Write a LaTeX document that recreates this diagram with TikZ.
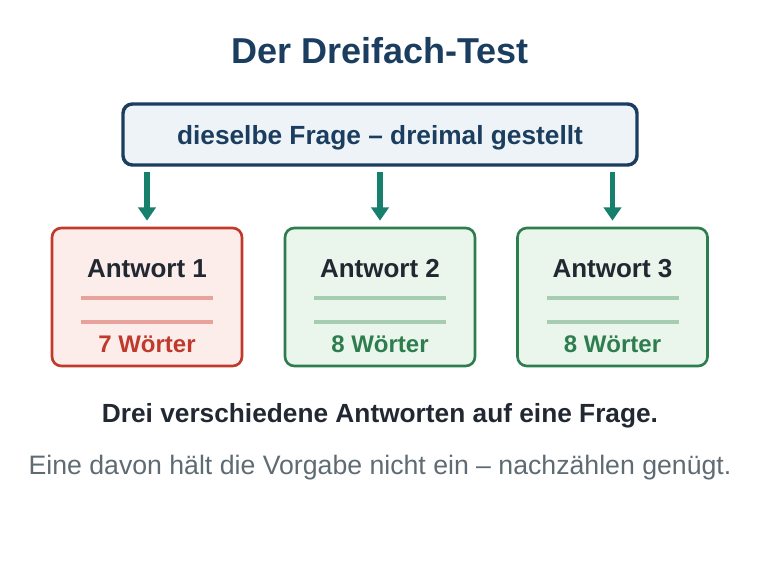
\documentclass[tikz,border=0pt]{standalone}
\usepackage{fontspec}
\setmainfont{Liberation Sans}
\usetikzlibrary{arrows.meta, positioning, calc}
\definecolor{titleblue}{HTML}{1B3D5F}
\definecolor{qfill}{HTML}{EEF3F7}
\definecolor{teal}{HTML}{17806D}
\definecolor{badred}{HTML}{C0392B}
\definecolor{badfill}{HTML}{FCEDEB}
\definecolor{badline}{HTML}{E8A29C}
\definecolor{okgreen}{HTML}{2E7D4F}
\definecolor{okfill}{HTML}{EAF5EC}
\definecolor{okline}{HTML}{A6CDB1}
\definecolor{darktext}{HTML}{222831}
\definecolor{graytext}{HTML}{5F6B73}

\begin{document}
\begin{tikzpicture}[x=0.75pt,y=-0.75pt,font=\bfseries]
\useasboundingbox (0,0) rectangle (760,570);

\tikzstyle{question}=[draw=titleblue,fill=qfill,line width=2.6pt,rounded corners=7pt,minimum width=385.5pt,minimum height=45.75pt,text=titleblue,font=\bfseries\fontsize{19.7}{23}\selectfont]
\tikzstyle{answer}=[line width=2pt,rounded corners=7pt,minimum width=142.5pt,minimum height=103.5pt]
\tikzstyle{bad}=[answer,draw=badred,fill=badfill]
\tikzstyle{good}=[answer,draw=okgreen,fill=okfill]
\tikzstyle{post}=[-{Triangle[length=10pt,width=13pt]},teal,line width=3.8pt]
\tikzstyle{label}=[text=darktext,font=\bfseries\fontsize{19.5}{23}\selectfont]
\tikzstyle{count}=[font=\bfseries\fontsize{18}{21}\selectfont]

\node[text=titleblue,font=\bfseries\fontsize{27}{32}\selectfont] (title) at (380,51) {Der Dreifach-Test};
\node[question] (frage) at (380,134.5) {};
\node[text=titleblue,font=\bfseries\fontsize{19.7}{23}\selectfont] (frage text) at (380,138) {dieselbe Frage -- dreimal gestellt};

\node[bad] (a1) at (147,297) {};
\node[good] (a2) at (380,297) {};
\node[good] (a3) at (612.5,297) {};

\foreach \i/\n/\c/\l/\w in {a1/1/badred/badline/7, a2/2/okgreen/okline/8, a3/3/okgreen/okline/8} {
    \node[label] at ($(\i.north)+(0,42)$) {Antwort \n};
    \draw[\l,line width=3pt] ($(\i.north)+(-66,71)$) -- ($(\i.north)+(66,71)$);
    \draw[\l,line width=3pt] ($(\i.north)+(-66,95)$) -- ($(\i.north)+(66,95)$);
    \node[count,text=\c] at ($(\i.north)+(0,118)$) {\w~Wörter};
    \draw[post] ($(\i.north)+(0,-55)$) coordinate (s\n) -- ($(\i.north)+(0,-6)$);
};

\node[text=darktext,font=\bfseries\fontsize{19.7}{23}\selectfont] (fazit) at (380,416) {Drei verschiedene Antworten auf eine Frage.};
\node[text=graytext,font=\fontsize{20}{24}\selectfont] (hinweis) at (380,468) {Eine davon hält die Vorgabe nicht ein -- nachzählen genügt.};
\end{tikzpicture}
\end{document}
